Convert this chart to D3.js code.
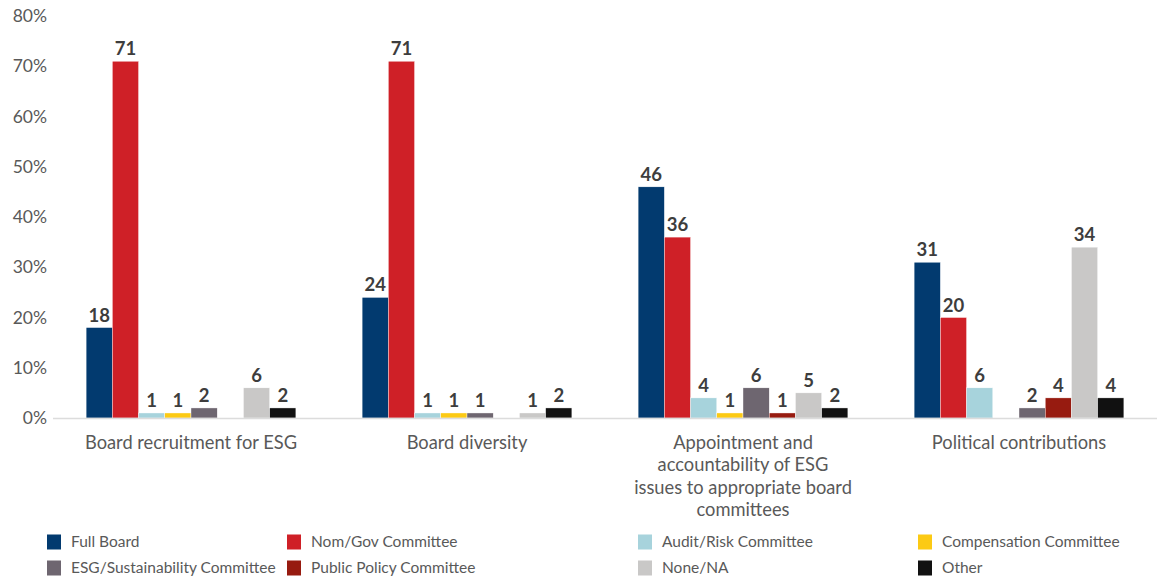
<!DOCTYPE html>
<html>
<head>
<meta charset="utf-8">
<script src="https://cdn.jsdelivr.net/npm/d3@7"></script>
<style>
  html, body { margin: 0; padding: 0; background: #fff; }
  svg { display: block; font-family: Lato, sans-serif; }
</style>
</head>
<body>
<svg id="chart" width="1157" height="578"></svg>
<script>
// Oversight responsibility by topic (% of companies)
const categories = [
  "Board recruitment for ESG",
  "Board diversity",
  "Appointment and accountability of ESG issues to appropriate board committees",
  "Political contributions"
];
// label lines for each category
const categoryLines = [
  ["Board recruitment for ESG"],
  ["Board diversity"],
  ["Appointment and", "accountability of ESG", "issues to appropriate board", "committees"],
  ["Political contributions"]
];
const seriesNames = [
  "Full Board", "Nom/Gov Committee", "Audit/Risk Committee", "Compensation Committee",
  "ESG/Sustainability Committee", "Public Policy Committee", "None/NA", "Other"
];
const seriesColors = [
  "#023a6f", "#cf2027", "#a7d3dc", "#fcca14",
  "#6e6670", "#971b10", "#c9c8c7", "#111111"
];
// one array per series, in category order (null = no response)
const fullBoard      = [18, 24, 46, 31];
const nomGov         = [71, 71, 36, 20];
const auditRisk      = [1, 1, 4, 6];
const compensation   = [1, 1, 1, null];
const esgSustain     = [2, 1, 6, 2];
const publicPolicy   = [null, null, 1, 4];
const noneNA         = [6, 1, 5, 34];
const other          = [2, 2, 2, 4];
const seriesValues = [fullBoard, nomGov, auditRisk, compensation, esgSustain, publicPolicy, noneNA, other];
const yTicks = [0, 10, 20, 30, 40, 50, 60, 70, 80];

const svg = d3.select("#chart");
const plot = { left: 53, right: 1157, top: 16, bottom: 418 };

const x0 = d3.scaleBand().domain(categories).range([plot.left, plot.right])
  .paddingInner(0.24).paddingOuter(0.12);
const x1 = d3.scaleBand().domain(d3.range(seriesNames.length)).range([0, x0.bandwidth()]);
const y = d3.scaleLinear().domain([0, 80]).range([plot.bottom, plot.top]);

// y axis labels
const yAxis = d3.axisLeft(y).tickValues(yTicks).tickFormat(d => d + "%").tickSize(0).tickPadding(6);
svg.append("g").attr("transform", `translate(${plot.left},0)`).call(yAxis)
  .call(g => g.select(".domain").remove())
  .call(g => g.selectAll("text").attr("fill", "#595959").style("font-size", "17.5px")
    .style("font-family", "Lato, sans-serif"));

// bars
const groups = svg.append("g").selectAll("g").data(categories).join("g")
  .attr("transform", d => `translate(${x0(d)},0)`);

groups.each(function(cat, ci) {
  const g = d3.select(this);
  const pts = seriesValues.map((arr, si) => ({ si, v: arr[ci] })).filter(p => p.v != null);
  g.selectAll("rect").data(pts).join("rect")
    .attr("x", p => x1(p.si))
    .attr("width", x1.bandwidth())
    .attr("y", p => y(p.v))
    .attr("height", p => y(0) - y(p.v))
    .attr("fill", p => seriesColors[p.si])
    .attr("stroke", "#fff").attr("stroke-width", 0.4);
  g.selectAll("text").data(pts).join("text")
    .attr("x", p => x1(p.si) + x1.bandwidth() / 2)
    .attr("y", p => y(p.v) - 6)
    .attr("text-anchor", "middle")
    .attr("fill", "#3d3d3d")
    .style("font-size", "18.5px").style("font-weight", "bold")
    .text(p => p.v);
});

// baseline
svg.append("line").attr("x1", plot.left).attr("x2", plot.right)
  .attr("y1", y(0) + 0.5).attr("y2", y(0) + 0.5)
  .attr("stroke", "#dcdcdc").attr("stroke-width", 1.5);

// category labels
const xAxis = d3.axisBottom(x0).tickSize(0).tickPadding(0);
const xg = svg.append("g").attr("transform", `translate(0,${plot.bottom})`).call(xAxis);
xg.select(".domain").remove();
xg.selectAll("text").attr("fill", "#595959").style("font-size", "18.3px")
  .style("font-family", "Lato, sans-serif")
  .each(function(d) {
    const t = d3.select(this);
    const lines = categoryLines[categories.indexOf(d)];
    t.text(null).attr("y", 0).attr("dy", null);
    lines.forEach((l, i) => {
      t.append("tspan").attr("x", 0).attr("y", 30.5 + i * 22.5).text(l);
    });
  });

// legend: 4 columns x 2 rows
const legendX = [47, 287, 638, 918];
const legendY = [542, 568];
const legend = svg.append("g").selectAll("g").data(seriesNames).join("g")
  .attr("transform", (d, i) => `translate(${legendX[i % 4]},${legendY[Math.floor(i / 4)]})`);
legend.append("rect").attr("x", 0).attr("y", -7.5).attr("width", 14).attr("height", 15)
  .attr("fill", (d, i) => seriesColors[i]);
legend.append("text").attr("x", 24).attr("y", 0).attr("dy", "0.35em")
  .attr("fill", "#595959").style("font-size", "15.5px").text(d => d);
</script>
</body>
</html>
